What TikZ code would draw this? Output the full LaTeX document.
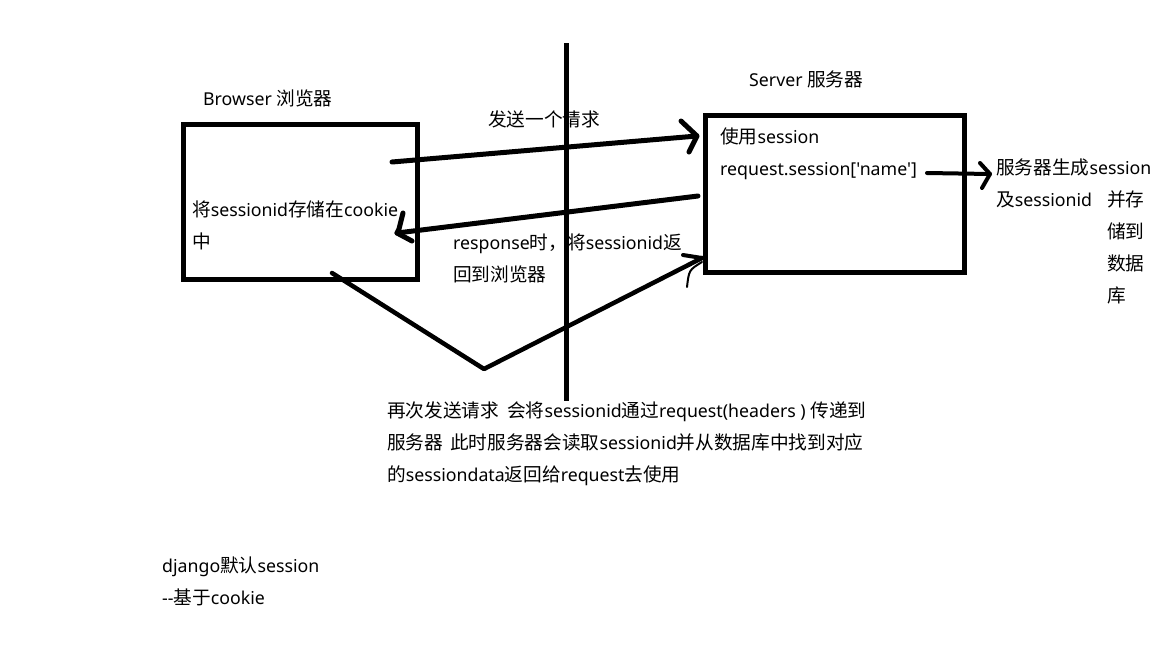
\documentclass[tikz,border=0pt]{standalone}
\usepackage{fontspec}
\setmainfont{Noto Sans}[Scale=0.95, Ligatures=TeXOff]
\newfontfamily\cjk{Noto Sans CJK SC}
\newcommand\zh[1]{{\cjk #1}}
\usetikzlibrary{calc}

\tikzset{
  pen/.style={line width=5pt, line cap=round, line join=round},
  box/.style={draw, line width=5pt, inner sep=0pt},
  txt/.style={anchor=north west, inner sep=0pt, align=left, yshift=15.7pt,
    font=\fontsize{18.67}{32}\selectfont},
}

\begin{document}
\begin{tikzpicture}[x=1pt, y=-1pt]
    \useasboundingbox[fill=white] (0,0) rectangle (1152,648);

    % Boxes
    \node[box, minimum width=234, minimum height=155] (browser) at (300.5,202) {};
    \node[box, minimum width=258.5, minimum height=157.5] (server) at (835,194) {};

    % Texts
    \node[txt] (browser label) at (203,99) {\strut Browser \zh{浏览器}};
    \node[txt] (server label) at (749,80) {\strut Server \zh{服务器}};
    \node[txt] (send label) at (488,120) {\strut\zh{发送一个请求}};
    \node[txt] (store text) at (192,210) {\strut\zh{将}sessionid\zh{存储在}cookie\\\strut\zh{中}};
    \node[txt] (response text) at (453,243) {\strut response\zh{时，将}sessionid\zh{返}\\\strut\zh{回到浏览器}};
    \node[txt] (use text) at (720,137) {\strut\zh{使用}session\\\strut request.session['name']};
    \node[txt] (create text) at (996,168) {\strut\zh{服务器生成}session\\\strut\zh{及}sessionid};
    \node[txt] (save text) at (1107,200) {\strut\zh{并存}\\\strut\zh{储到}\\\strut\zh{数据}\\\strut\zh{库}};
    \node[txt] (again text) at (387,411) {\strut\zh{再次发送请求}\hspace{0.45em}\zh{会将}sessionid\zh{通过}request(headers ) \zh{传递到}\\
        \strut\zh{服务器}\hspace{0.4em}\zh{此时服务器会读取}sessionid\zh{并从数据库中找到对应}\\
        \strut\zh{的}sessiondata\zh{返回给}request\zh{去使用}};
    \node[txt] (django text) at (162,566) {\strut django\zh{默认}session\\\strut -{}-\zh{基于}cookie};

    % Divider
    \coordinate (divider top) at (566,43);
    \coordinate (divider bottom) at (566,401);
    \draw[line width=5pt] (divider top) -- (divider bottom);

    % Request
    \coordinate (send start) at (392,162);
    \coordinate (send tip) at (697,136);
    \draw[pen] (send start) -- (send tip);
    \draw[pen] ($(send tip)+(-16,-15)$) -- (send tip) -- ($(send tip)+(-8,16)$);

    % Response
    \coordinate (back start) at (698,196);
    \coordinate (back tip) at (397,233);
    \draw[pen] (back start) -- (back tip);
    \draw[pen] ($(back tip)+(6,-20)$) -- ($(back tip)+(2,-4)$) -- (back tip) -- ($(back tip)+(15,8)$);

    % Session creation
    \coordinate (make start) at (927,173);
    \coordinate (make tip) at (990,174);
    \draw[pen, line width=4pt] (make start) -- (make tip);
    \draw[pen, line width=4pt] ($(make tip)+(-10,-11)$) -- (make tip) -- ($(make tip)+(-8,14)$);

    % Second request
    \coordinate (again start) at (332,273);
    \coordinate (again low) at (484,369);
    \coordinate (again tip) at (702,258);
    \draw[pen, line width=4.5pt] (again start) -- (again low) -- (again tip);
    \draw[pen, line width=4pt] ($(again tip)+(-19,-3)$) -- (again tip);
    \draw[line width=2pt, line cap=round] ($(again tip)+(-15,29)$) .. controls ($(again tip)+(-13,12)$) .. ($(again tip)+(0,4)$);
\end{tikzpicture}
\end{document}
